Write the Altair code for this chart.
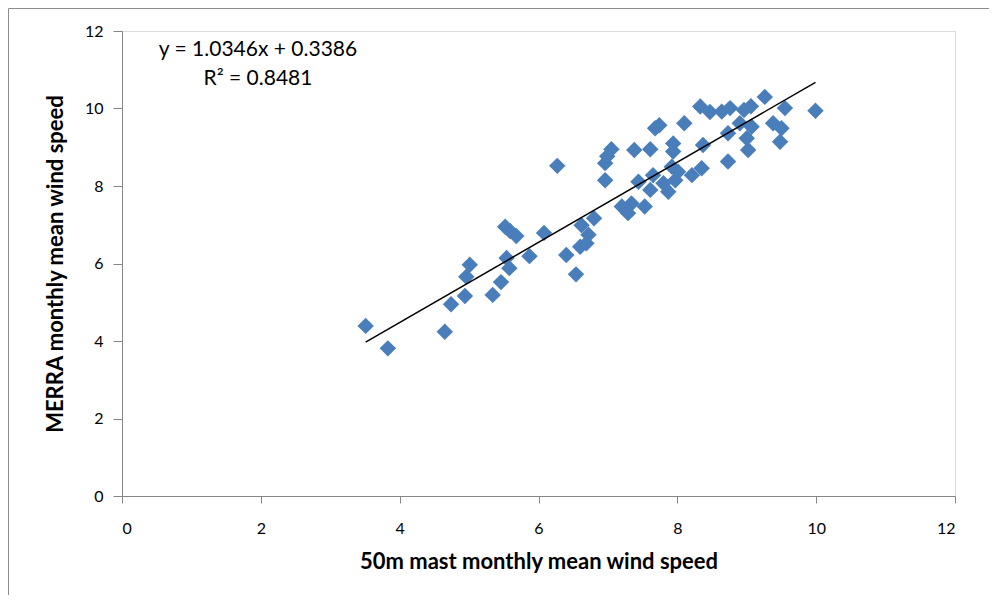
import altair as alt
import pandas as pd

# 50 m mast monthly mean wind speed (x) and MERRA monthly mean wind speed (y)
mast_speed = [3.51, 3.83, 4.65, 4.74, 4.94, 4.96, 5.01, 5.34, 5.46, 5.52,
              5.59, 5.68, 5.54, 5.58, 5.87, 6.08, 6.27, 6.40, 6.54, 6.60,
              6.62, 6.69, 6.72, 6.80, 6.96, 6.96, 7.05, 6.99, 7.20, 7.29,
              7.34, 7.38, 7.44, 7.53, 7.61, 7.61, 7.65, 7.68, 7.74, 7.80,
              7.87, 7.92, 7.94, 7.94, 7.97, 8.01, 8.10, 8.21, 8.35, 8.37,
              8.33, 8.47, 8.64, 8.76, 8.73, 8.73, 8.90, 9.00, 9.02, 8.96,
              9.07, 9.06, 9.26, 9.38, 9.50, 9.48, 9.55, 9.99]
merra_speed = [4.39, 3.81, 4.24, 4.95, 5.16, 5.66, 5.97, 5.19, 5.52, 6.95,
               6.84, 6.71, 6.14, 5.88, 6.19, 6.79, 8.52, 6.22, 5.72, 6.43,
               6.99, 6.52, 6.74, 7.17, 8.15, 8.59, 8.95, 8.77, 7.47, 7.30,
               7.55, 8.93, 8.11, 7.47, 8.95, 7.90, 8.28, 9.49, 9.57, 8.07,
               7.85, 8.50, 9.10, 8.89, 8.15, 8.37, 9.62, 8.28, 8.46, 9.06,
               10.05, 9.91, 9.92, 10.01, 9.36, 8.63, 9.62, 9.23, 8.93, 9.96,
               9.53, 10.06, 10.30, 9.62, 9.49, 9.14, 10.01, 9.94]

slope = 1.0346
intercept = 0.3386
equation_line = "y = 1.0346x + 0.3386"
r2_line = "R² = 0.8481"

x_title = "50m mast monthly mean wind speed"
y_title = "MERRA monthly mean wind speed"
axis_ticks = [0, 2, 4, 6, 8, 10, 12]

W, H = 833, 465
FONT = "Lato"
BLUE = "#4A7EBB"
GRAY = "#868686"

df = pd.DataFrame({"mast": mast_speed, "merra": merra_speed})
xmin, xmax = min(mast_speed), max(mast_speed)
trend = pd.DataFrame({"mast": [xmin, xmax],
                      "merra": [slope * xmin + intercept, slope * xmax + intercept]})

xscale = alt.Scale(domain=[0, 12], nice=False)
yscale = alt.Scale(domain=[0, 12], nice=False)

xaxis = alt.Axis(values=axis_ticks, format="d", title=x_title, grid=False,
                 domainColor=GRAY, tickColor=GRAY, tickSize=7,
                 labelFont=FONT, labelFontSize=16, labelColor="#000000",
                 labelPadding=17, titleFont=FONT, titleFontSize=22,
                 titleFontWeight="bold", titleColor="#000000", titlePadding=15)
yaxis = alt.Axis(values=axis_ticks, format="d", title=y_title, grid=False,
                 domainColor=GRAY, tickColor=GRAY, tickSize=9,
                 labelFont=FONT, labelFontSize=16, labelColor="#000000",
                 labelPadding=10, titleFont=FONT, titleFontSize=22,
                 titleFontWeight="bold", titleColor="#000000", titlePadding=17)

frame = alt.Chart(pd.DataFrame({"k": [0]})).mark_rect(
    fill=None, stroke="#8C8C8C", strokeWidth=1, clip=False
).encode(x=alt.value(-113.5), x2=alt.value(868), y=alt.value(-22.5), y2=alt.value(566.5))

points = alt.Chart(df).mark_point(
    shape="diamond", filled=True, color=BLUE, size=270, opacity=1
).encode(
    x=alt.X("mast:Q", scale=xscale, axis=xaxis),
    y=alt.Y("merra:Q", scale=yscale, axis=yaxis),
)

line = alt.Chart(trend).mark_line(color="#000000", strokeWidth=1.5).encode(
    x=alt.X("mast:Q", scale=xscale),
    y=alt.Y("merra:Q", scale=yscale),
)

txt = dict(font=FONT, fontSize=21, color="#000000", align="center", baseline="middle")
eq1 = alt.Chart(pd.DataFrame({"label": [equation_line]})).mark_text(**txt).encode(
    x=alt.value(136), y=alt.value(19), text="label:N")
eq2 = alt.Chart(pd.DataFrame({"label": [r2_line]})).mark_text(**txt).encode(
    x=alt.value(136), y=alt.value(48), text="label:N")

chart = alt.layer(frame, points, line, eq1, eq2).properties(
    width=W, height=H,
    autosize=alt.AutoSizeParams(type="none"),
    padding={"left": 114, "top": 23, "right": 34, "bottom": 99},
).configure_view(stroke=None).configure(background="#FFFFFF")

chart.save("out.html", embed_options={"renderer": "svg", "actions": False})
